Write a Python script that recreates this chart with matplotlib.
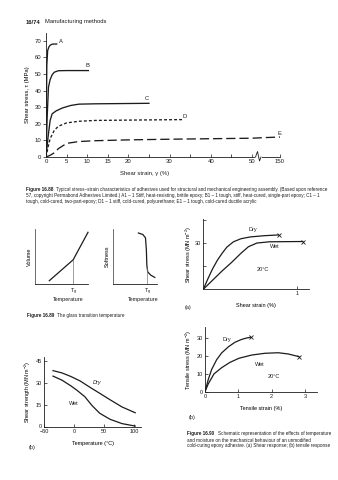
import numpy as np
import matplotlib.pyplot as plt
from matplotlib.lines import Line2D

plt.rcParams['font.family'] = ['Liberation Sans', 'DejaVu Sans']
plt.rcParams['mathtext.default'] = 'regular'
plt.rcParams['font.size'] = 4
plt.rcParams['axes.linewidth'] = 0.6
plt.rcParams['xtick.major.width'] = 0.5
plt.rcParams['ytick.major.width'] = 0.5
plt.rcParams['xtick.major.size'] = 2
plt.rcParams['ytick.major.size'] = 2
plt.rcParams['xtick.major.pad'] = 1.5
plt.rcParams['ytick.major.pad'] = 1.5

INK = '#1c1c1c'

# ---- Figure 16.88 : shear stress-strain of adhesives
A_x = [0, 0.1, 0.2, 0.4, 0.7, 1.0, 1.5, 2.6]
A_y = [0, 30, 55, 64, 66.2, 67.2, 67.9, 68]
B_x = [0, 0.3, 0.6, 1.0, 1.5, 2.0, 3.0, 5, 10.3]
B_y = [0, 25, 42, 46.5, 49.5, 51, 51.9, 52, 52]
C_x = [0, 0.5, 1.0, 1.5, 2.5, 4, 6, 8, 12, 25]
C_y = [0, 12, 22, 26, 27.8, 29.5, 31, 31.8, 32, 32.3]
D_x = [0, 0.5, 1, 2, 3, 5, 8, 12, 20, 33.3]
D_y = [0, 6, 11, 16, 18.5, 20.5, 21.5, 22, 22.2, 22.5]
E_x = [0, 1, 2, 3, 5, 8, 12, 20, 30, 40, 50, 100, 150]
E_y = [0, 1, 2.5, 5, 8.2, 9.3, 9.8, 10.3, 10.7, 11, 11.3, 11.7, 12]
strain_ticks = [0, 5, 10, 15, 20, 30, 40, 50, 150]
stress_ticks = [0, 10, 20, 30, 40, 50, 60, 70]

# ---- Figure 16.89 : glass transition (schematic, arbitrary units)
vol_t = [0.27, 0.72, 1.0]
vol_v = [0.06, 0.44, 0.94]
tg_vol = 0.72
soft_t = [0.58, 0.68, 0.74, 0.76, 0.77, 0.79, 0.86, 0.95]
soft_s = [0.927, 0.9, 0.84, 0.62, 0.35, 0.22, 0.16, 0.12]
tg_soft = 0.78

# ---- Figure 16.90 (a) shear response at 20 C
sa_dry_x = [0, 0.05, 0.1, 0.15, 0.2, 0.25, 0.32, 0.4, 0.5, 0.65, 0.8]
sa_dry_y = [0, 7, 13.5, 19, 23.5, 27.5, 31, 33, 34.2, 35, 35.5]
sa_wet_x = [0, 0.1, 0.2, 0.3, 0.4, 0.48, 0.57, 0.7, 0.85, 1.06]
sa_wet_y = [0, 6, 12, 17.5, 23.5, 27.8, 30.2, 31, 31.1, 31.2]

# ---- shear strength vs temperature
st_dry_t = [-35, -20, -5, 10, 25, 43, 60, 80, 102]
st_dry_s = [38.6, 37, 34.5, 31.5, 27.5, 22.9, 18.5, 13.5, 9.5]
st_wet_t = [-35, -20, -5, 5, 18, 30, 43, 60, 80, 102]
st_wet_s = [34.8, 32, 28, 25, 20.6, 14.5, 9.1, 5, 2, 0.3]

# ---- Figure 16.90 (b) tensile response at 20 C
tb_dry_x = [0, 0.1, 0.2, 0.35, 0.5, 0.7, 0.9, 1.1, 1.25, 1.37]
tb_dry_y = [0, 7, 12.5, 18, 21.8, 25.2, 27.8, 29.4, 30.2, 30.6]
tb_wet_x = [0, 0.1, 0.27, 0.5, 0.75, 1.02, 1.4, 1.8, 2.2, 2.5, 2.82]
tb_wet_y = [0, 4.5, 10, 13.5, 16.5, 18.8, 20.6, 21.6, 21.9, 21.2, 19.7]

W, H = 338, 480
fig = plt.figure(figsize=(W / 100, H / 100), dpi=100)
rend = fig.canvas.get_renderer()


def box(x0, y0, x1, y1):
    ax = fig.add_axes([x0 / W, 1 - y1 / H, (x1 - x0) / W, (y1 - y0) / H])
    ax.spines[['top', 'right']].set_visible(False)
    for s in ax.spines.values():
        s.set_color(INK)
    ax.tick_params(colors=INK, labelsize=4)
    ax.patch.set_alpha(0)
    return ax


def put(x, y, s, **kw):
    kw.setdefault('color', INK)
    return fig.text(x / W, 1 - y / H, s, **kw)


cap = 3.35


def caption(x, y, bold, rest, gap=3, size=cap):
    t = put(x, y, bold, fontsize=size, fontweight='bold', va='center')
    w = t.get_window_extent(rend).width
    put(x + w + gap, y, rest, fontsize=size, va='center')


# header
caption(26, 22, '16/74', 'Manufacturing methods', gap=4, size=4.2)

# main chart with broken strain axis (0-50 linear, 50-150 squeezed)
k = 0.0683


def fwd(x):
    x = np.asarray(x, float)
    return np.where(x <= 50, x, 50 + (x - 50) * k)


def inv(u):
    u = np.asarray(u, float)
    return np.where(u <= 50, u, 50 + (u - 50) / k)


ax = box(46, 33, 280, 157)
ax.set_xscale('function', functions=(fwd, inv))
ax.set_xlim(0, 150)
ax.set_ylim(0, 74.6)
lw = 0.95
ax.plot(A_x, A_y, color=INK, lw=lw)
ax.plot(B_x, B_y, color=INK, lw=lw)
ax.plot(C_x, C_y, color=INK, lw=lw)
ax.plot(D_x, D_y, color=INK, lw=lw, dashes=(2.2, 1.6))
ax.plot(E_x, E_y, color=INK, lw=lw, dashes=(7, 3))
ax.set_xticks(strain_ticks)
ax.set_xticks([25, 35, 45], minor=True)
ax.set_xticklabels([str(t) for t in strain_ticks])
ax.set_yticks(stress_ticks)
ax.tick_params(labelsize=4.3)
ax.tick_params(axis='x', which='both', direction='in', length=2, width=0.5)
ax.tick_params(axis='y', direction='out', length=2)
for lab, x, y in [('A', 3.6, 69.2), ('B', 10.1, 55), ('C', 24.5, 35),
                  ('D', 33.7, 24.4), ('E', 148, 14.4)]:
    ax.text(x, y, lab, fontsize=4.2, color=INK, ha='center', va='center')
ax.set_ylabel('Shear stress, τ (MPa)', fontsize=4.2, labelpad=3)
put(145, 174, 'Shear strain, γ (%)', fontsize=4.2, ha='center', va='center')

# break symbol on the axis
fig.add_artist(Line2D([256 / W, 261 / W], [1 - 157 / H] * 2, color='white', lw=1.4))
bx = np.array([255.5, 257.5, 259.5, 261])
by = np.array([157, 151.5, 161, 157])
fig.add_artist(Line2D(bx / W, 1 - by / H, color=INK, lw=0.6))

caption(26, 190, 'Figure 16.88',
        'Typical stress\u2013strain characteristics of adhesives used for structural and mechanical engineering assembly. (Based upon reference')
put(26, 196, '57, copyright Permabond Adhesives Limited.) A1 \u2013 1 Stiff, heat-resisting, brittle epoxy; B1 \u2013 1 tough, stiff, heat-cured, single-part epoxy; C1 \u2013 1',
    fontsize=cap, va='center')
put(26, 202, 'tough, cold-cured, two-part-epoxy; D1 \u2013 1 stiff, cold-cured, polyurethane; E1 \u2013 1 tough, cold-cured ductile acrylic',
    fontsize=cap, va='center')

# glass transition panels
for (x0, x1), tx, ty, tg, ylab in [((35, 88), vol_t, vol_v, tg_vol, 'Volume'),
                                   ((112.7, 157), soft_t, soft_s, tg_soft, 'Softness')]:
    g = box(x0, 229, x1, 284)
    g.set_xlim(0, 1)
    g.set_ylim(0, 1)
    g.set_xticks([])
    g.set_yticks([])
    g.spines['left'].set_color('#555555')
    g.plot(tx, ty, color=INK, lw=0.9, clip_on=False)
    order = np.argsort(tx)
    top = np.interp(tg, np.array(tx)[order], np.array(ty)[order])
    g.plot([tg, tg], [0, top], color='#777777', lw=0.5)
    g.text(tg, -0.05, '$T_g$', fontsize=4, ha='center', va='top', color=INK)
    g.text(tg - 0.1, -0.24, 'Temperature', fontsize=4, ha='center', va='top', color=INK)
    g.set_ylabel(ylab, fontsize=4, labelpad=2)

caption(26.7, 316, 'Figure 16.89', 'The glass transition temperature')

# (a) shear response
a = box(203.3, 219.3, 309, 289.3)
a.set_xlim(0, 1.124)
a.set_ylim(0, 45.7)
a.plot(sa_dry_x, sa_dry_y, color=INK, lw=0.9)
a.plot(sa_wet_x, sa_wet_y, color=INK, lw=0.9)
a.plot(sa_dry_x[-1], sa_dry_y[-1], 'x', color=INK, ms=3, mew=0.6)
a.plot(sa_wet_x[-1], sa_wet_y[-1], 'x', color=INK, ms=3, mew=0.6)
a.set_yticks([15, 30, 45])
a.set_yticklabels(['', '30', ''])
a.set_xticks([1])
a.tick_params(direction='in', length=2)
a.set_ylabel('Shear stress (MN m$^{-2}$)', fontsize=4, labelpad=1)
a.set_xlabel('Shear strain (%)', fontsize=4, labelpad=5)
put(253.3, 229.3, 'Dry', fontsize=4, ha='center', va='center')
put(275, 246.7, 'Wet', fontsize=4, ha='center', va='center')
put(263.3, 269.3, '20\u00b0C', fontsize=4, ha='center', va='center')
put(188, 307, '(a)', fontsize=4, ha='center', va='center')

# shear strength vs temperature
b = box(44, 357, 141.2, 426.5)
b.set_xlim(-50, 112)
b.set_ylim(0, 48)
b.plot(st_dry_t, st_dry_s, color=INK, lw=0.9)
b.plot(st_wet_t, st_wet_s, color=INK, lw=0.9)
b.set_yticks([0, 15, 30, 45])
b.set_xticks([-50, 0, 50, 100])
b.set_xticklabels(['\u221250', '0', '50', '100'])
b.tick_params(direction='in', length=2)
b.set_ylabel('Shear strength (MN m$^{-2}$)', fontsize=4, labelpad=2)
b.set_xlabel('Temperature (\u00b0C)', fontsize=4, labelpad=5)
put(96.7, 382.7, 'Dry', fontsize=4, ha='center', va='center', style='italic')
put(74, 403.3, 'Wet', fontsize=4, ha='center', va='center')
put(32, 447, '(b)', fontsize=4, ha='center', va='center')

# (b) tensile response
t = box(205, 327.3, 317.3, 391.7)
t.set_xlim(0, 3.37)
t.set_ylim(0, 36.2)
t.plot(tb_dry_x, tb_dry_y, color=INK, lw=0.9)
t.plot(tb_wet_x, tb_wet_y, color=INK, lw=0.9)
t.plot(tb_dry_x[-1], tb_dry_y[-1], 'x', color=INK, ms=3, mew=0.6)
t.plot(tb_wet_x[-1], tb_wet_y[-1], 'x', color=INK, ms=3, mew=0.6)
t.set_yticks([0, 10, 20, 30])
t.set_xticks([0, 1, 2, 3])
t.tick_params(direction='in', length=2)
t.set_ylabel('Tensile stress (MN m$^{-2}$)', fontsize=4, labelpad=2)
t.set_xlabel('Tensile strain (%)', fontsize=4, labelpad=5)
put(227.3, 340, 'Dry', fontsize=4, ha='center', va='center')
put(260, 364, 'Wet', fontsize=4, ha='center', va='center')
put(274, 376, '20\u00b0C', fontsize=4, ha='center', va='center')
put(192, 418, '(b)', fontsize=4, ha='center', va='center')

caption(187.3, 434, 'Figure 16.90', 'Schematic representation of the effects of temperature')
put(187.3, 440, 'and moisture on the mechanical behaviour of an unmodified', fontsize=cap, va='center')
put(187.3, 446, 'cold-curing epoxy adhesive. (a) Shear response; (b) tensile response', fontsize=cap, va='center')

fig.savefig('out.png', dpi=100)
